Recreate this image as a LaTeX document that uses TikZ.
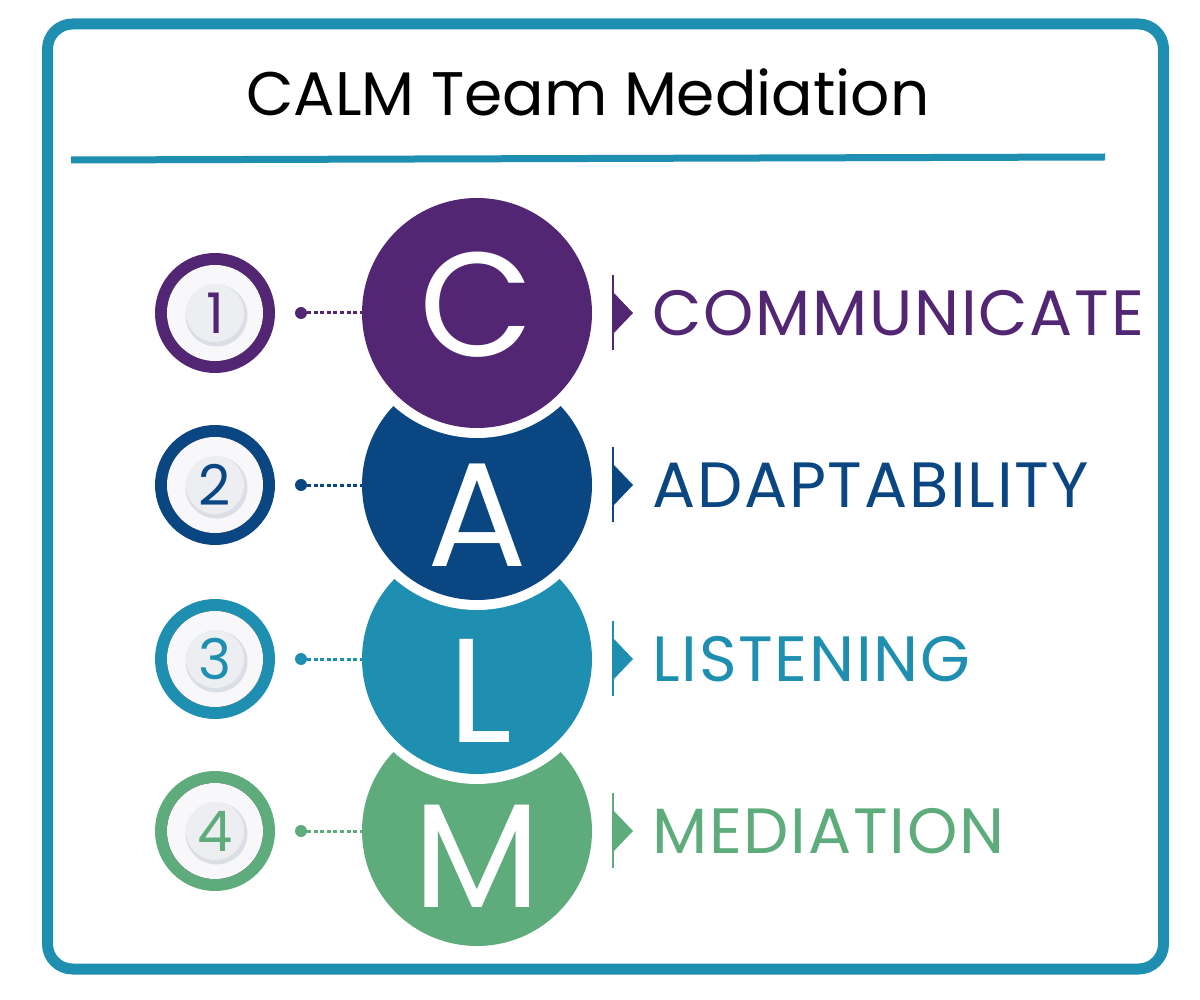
\documentclass[tikz,border=0pt]{standalone}
\usepackage{fontspec}
\setmainfont{Poppins}
\newfontfamily\labfont[LetterSpace=2.8]{Poppins}
\definecolor{cpurple}{HTML}{532674}
\definecolor{cnavy}{HTML}{0A4682}
\definecolor{cteal}{HTML}{1F8FB1}
\definecolor{cgreen}{HTML}{5EAB7C}
\definecolor{btnedge}{HTML}{D6D7E1}
\definecolor{btnmid}{HTML}{F8F8FB}
\definecolor{btnface}{HTML}{ECEEF2}
\definecolor{btnshadow}{HTML}{DCDEE5}
\pgfdeclareradialshading{btnshade}{\pgfpoint{-4bp}{4bp}}{color(0bp)=(btnmid); color(34bp)=(btnmid); color(52bp)=(btnedge)}
\tikzset{
  frame/.style={draw=cteal, line width=11pt, rounded corners=25pt},
  ruleline/.style={draw=cteal, line width=7pt},
  ring/.style={circle, minimum size=108pt, line width=12pt, inner sep=0pt, outer sep=0pt, fill=white},
  bigc/.style={circle, minimum size=230pt, inner sep=0pt, outer sep=0pt, preaction={draw=white, line width=20pt}},
  bigl/.style={text=white, inner sep=0pt, font=\fontsize{148}{150}\selectfont},
  numtxt/.style={inner sep=0pt, font=\fontsize{56}{60}\selectfont},
  labtxt/.style={inner sep=0pt, anchor=base west, font=\labfont\fontsize{64}{70}\selectfont},
  dotnode/.style={circle, minimum size=12pt, inner sep=0pt, outer sep=0pt},
  conn/.style={line width=3pt, dash pattern=on 4pt off 2.6pt},
  marker/.style={line width=2.5pt},
}
\newcommand{\mybutton}[1]{%
  \fill[shading=btnshade] (#1) circle (48);
  \fill[btnshadow] ($(#1)+(1.5,2.5)$) circle (31);
  \fill[btnface] (#1) circle (29);
}
\usetikzlibrary{calc}
\begin{document}
\begin{tikzpicture}[x=1pt, y=-1pt]
\useasboundingbox (0,0) rectangle (1200,1000);
% frame
\draw[frame] (47.5,24) rectangle (1163.5,969);
% title
\node[anchor=base, inner sep=0pt, font=\fontsize{61.5}{68}\selectfont] (title) at (588,116) {CALM Team Mediation};
\coordinate (rl) at (71,160);
\coordinate (rr) at (1105,157);
\draw[ruleline] (rl) -- (rr);

% big circles, bottom first
\node[bigc, fill=cgreen] (M) at (477,831) {};
\node[bigc, fill=cteal] (L) at (477,659) {};
\node[bigc, fill=cnavy] (A) at (477,485) {};
\node[bigc, fill=cpurple] (C) at (477,313) {};
\node[bigl, anchor=base] (lC) at (477,356) {C};
\node[bigl, anchor=base] (lA) at (477,566) {A};
\node[bigl, anchor=base] (lL) at (480,742) {L};
\node[bigl, anchor=base] (lM) at (477,907) {M};

% numbered rings
\foreach \n/\y/\col in {1/313/cpurple, 2/485/cnavy, 3/659/cteal, 4/831/cgreen}{
  \node[ring, draw=\col] (n\n) at (215,\y) {};
  \mybutton{n\n.center}
  \node[numtxt, text=\col] (t\n) at (215,\y) {\n};
  \node[dotnode, fill=\col] (d\n) at (301,\y) {};
}
% connectors
\draw[conn, draw=cpurple] (d1.east) -- (C.west);
\draw[conn, draw=cnavy] (d2.east) -- (A.west);
\draw[conn, draw=cteal] (d3.east) -- (L.west);
\draw[conn, draw=cgreen] (d4.east) -- (M.west);

% markers and labels
\foreach \y/\col/\txt/\nm in {313/cpurple/COMMUNICATE/w1, 485/cnavy/ADAPTABILITY/w2, 659/cteal/LISTENING/w3, 831/cgreen/MEDIATION/w4}{
  \draw[marker, draw=\col] (613,\y-38) -- (613,\y+37);
  \fill[\col] (613,\y-21) -- (633,\y) -- (613,\y+21) -- cycle;
  \node[labtxt, text=\col] (\nm) at (652,\y+22.5) {\txt};
}
\end{tikzpicture}
\end{document}
